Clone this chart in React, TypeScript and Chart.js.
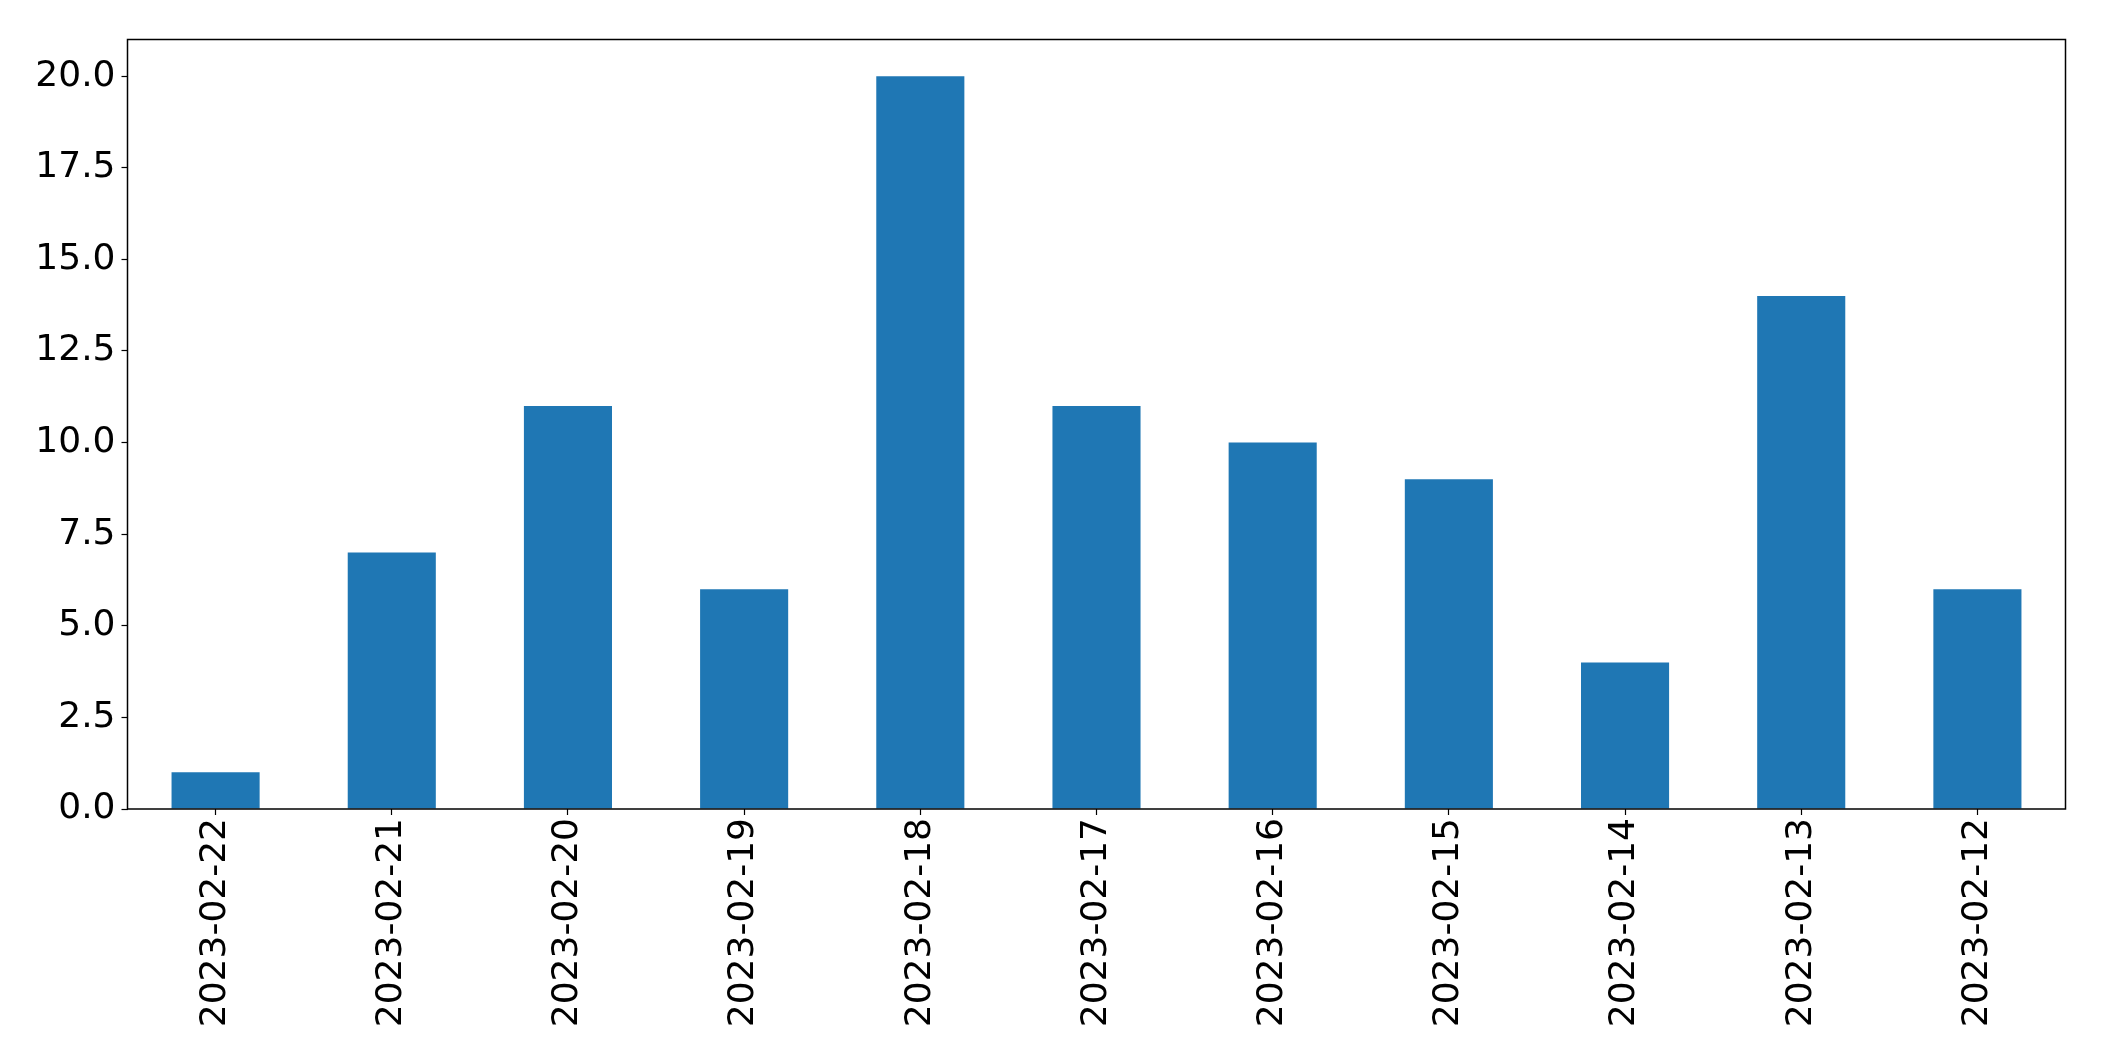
import React, { useEffect, useRef } from "react";
import { Chart, registerables } from "chart.js";

Chart.register(...registerables);

const categories = [
  "2023-02-22",
  "2023-02-21",
  "2023-02-20",
  "2023-02-19",
  "2023-02-18",
  "2023-02-17",
  "2023-02-16",
  "2023-02-15",
  "2023-02-14",
  "2023-02-13",
  "2023-02-12",
];
const values = [1, 7, 11, 6, 20, 11, 10, 9, 4, 14, 6];
const yTicks = [0, 2.5, 5, 7.5, 10, 12.5, 15, 17.5, 20];

const W = 2104;
const H = 1061;
const PLOT_LEFT = 127.5;
const PLOT_TOP = 39.5;
const PLOT_RIGHT = 2065.5;
const PLOT_BOTTOM = 809;

const frame = {
  id: "frame",
  afterDatasetsDraw(chart: any) {
    const { ctx, chartArea } = chart;
    ctx.save();
    ctx.strokeStyle = "#000";
    ctx.lineWidth = 1.5;
    ctx.strokeRect(
      chartArea.left,
      chartArea.top,
      chartArea.right - chartArea.left,
      chartArea.bottom - chartArea.top
    );
    ctx.restore();
  },
};

export default function App() {
  const ref = useRef<HTMLCanvasElement | null>(null);

  useEffect(() => {
    const canvas = ref.current;
    if (!canvas) return;
    const font = { family: "'DejaVu Sans', sans-serif", size: 36 };
    const chart = new Chart(canvas, {
      type: "bar",
      data: {
        labels: categories,
        datasets: [
          {
            data: values,
            backgroundColor: "#1f77b4",
            borderWidth: 0,
            barPercentage: 0.5,
            categoryPercentage: 1,
          },
        ],
      },
      options: {
        animation: false,
        responsive: false,
        devicePixelRatio: 1,
        layout: {
          padding: {
            left: 0,
            top: PLOT_TOP,
            right: W - PLOT_RIGHT,
            bottom: 0,
          },
        },
        plugins: {
          legend: { display: false },
          tooltip: { enabled: false },
        },
        scales: {
          x: {
            offset: true,
            grid: {
              offset: false,
              drawOnChartArea: false,
              drawTicks: true,
              tickLength: 6,
              tickWidth: 1.2,
              tickColor: "#000",
            },
            border: { display: false },
            ticks: {
              color: "#000",
              font,
              minRotation: 90,
              maxRotation: 90,
              autoSkip: false,
              padding: 3,
            },
            afterFit(scale: any) {
              scale.height = H - PLOT_BOTTOM;
            },
          },
          y: {
            min: 0,
            max: 21,
            grid: {
              drawOnChartArea: false,
              drawTicks: true,
              tickLength: 6,
              tickWidth: 1.2,
              tickColor: "#000",
            },
            border: { display: false },
            ticks: {
              color: "#000",
              font,
              padding: 6,
              callback: (v: any) => Number(v).toFixed(1),
            },
            afterBuildTicks(scale: any) {
              scale.ticks = yTicks.map((v) => ({ value: v }));
            },
            afterFit(scale: any) {
              scale.width = PLOT_LEFT;
            },
          },
        },
      },
      plugins: [frame],
    });
    return () => chart.destroy();
  }, []);

  return (
    <div
      style={{
        position: "absolute",
        left: 0,
        top: 0,
        width: W,
        height: H,
        background: "#fff",
      }}
    >
      <canvas ref={ref} width={W} height={H} style={{ width: W, height: H, display: "block" }} />
    </div>
  );
}
